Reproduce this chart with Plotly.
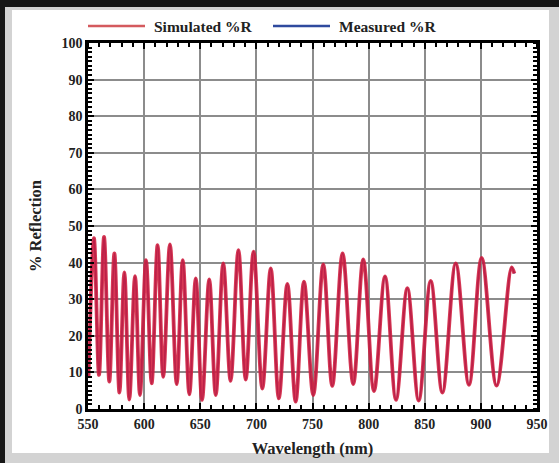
import plotly.graph_objects as go

# ---- data (extrema of the reflection curve) ----
wavelength_nm = [550.5, 555.3, 559.8, 564.3, 569.0, 573.5, 578.0, 582.4, 586.8, 591.9,
                 596.3, 601.7, 606.7, 612.0, 617.0, 623.0, 629.0, 634.4, 640.3, 646.0,
                 651.6, 658.0, 663.8, 670.5, 677.0, 684.0, 690.5, 697.5, 705.3, 712.8,
                 720.0, 727.6, 735.0, 742.4, 750.7, 759.6, 767.6, 776.8, 786.3, 795.2,
                 804.8, 814.6, 824.4, 834.5, 844.6, 855.3, 865.7, 877.6, 889.4, 900.7,
                 914.0, 927.4, 929.8]
simulated_R = [8.7, 46.7, 9.3, 47.0, 7.5, 42.5, 4.5, 37.3, 2.6, 36.3,
               3.8, 40.7, 7.0, 44.8, 8.8, 45.0, 6.8, 40.7, 4.0, 35.7,
               2.5, 35.4, 3.8, 39.8, 7.7, 43.4, 8.0, 43.0, 5.6, 38.4,
               2.9, 34.2, 2.0, 34.8, 3.8, 39.5, 6.3, 42.5, 6.8, 40.9,
               4.9, 36.2, 2.5, 33.0, 2.3, 35.0, 4.5, 39.8, 6.6, 41.3,
               6.4, 38.7, 37.0]
measured_R = [8.7, 46.7, 9.3, 47.0, 7.5, 42.5, 4.5, 37.3, 2.6, 36.3,
              3.8, 40.7, 7.0, 44.8, 8.8, 45.0, 6.8, 40.7, 4.0, 35.7,
              2.5, 35.4, 3.8, 39.8, 7.7, 43.4, 8.0, 43.0, 5.6, 38.4,
              2.9, 34.2, 2.0, 34.8, 3.8, 39.5, 6.3, 42.5, 6.8, 40.9,
              4.9, 36.2, 2.5, 33.0, 2.3, 35.0, 4.5, 39.8, 6.6, 41.3,
              6.4, 38.7, 37.0]
x_ticks = [550, 600, 650, 700, 750, 800, 850, 900, 950]
y_ticks = [0, 10, 20, 30, 40, 50, 60, 70, 80, 90, 100]
legend_names = ["Simulated %R", "Measured %R"]

W, H = 559, 463
ML, MR, MT, MB = 88, 22, 43, 54
PW, PH = W - ML - MR, H - MT - MB


def px(xpix):
    return (xpix - ML) / PW


def py(ypix):
    return (H - MB - ypix) / PH


FONT = "Liberation Serif"
X_RANGE = [550, 950]
Y_RANGE = [0, 100]

fig = go.Figure()
fig.add_trace(go.Scatter(x=wavelength_nm, y=measured_R, mode="lines",
                         line=dict(color="#2a3f9a", width=1.8, shape="spline"),
                         name=legend_names[1], showlegend=False))
fig.add_trace(go.Scatter(x=wavelength_nm, y=simulated_R, mode="lines",
                         line=dict(color="rgba(210,28,60,0.88)", width=3.8, shape="spline"),
                         name=legend_names[0], showlegend=False))
# empty trace binding the mirror axes (top / right minor ticks)
fig.add_trace(go.Scatter(x=[], y=[], xaxis="x2", yaxis="y2", showlegend=False, hoverinfo="skip"))

shapes = [
    dict(type="rect", xref="paper", yref="paper", x0=px(12), x1=px(549), y0=py(453), y1=py(10),
         fillcolor="white", line=dict(width=0), layer="below"),
    dict(type="rect", xref="paper", yref="paper", x0=px(-5), x1=px(W + 5), y0=py(7), y1=py(-5),
         fillcolor="#161616", line=dict(width=0), layer="below"),
    dict(type="rect", xref="paper", yref="paper", x0=px(-5), x1=px(5), y0=py(H + 5), y1=py(-5),
         fillcolor="#161616", line=dict(width=0), layer="below"),
    dict(type="line", xref="paper", yref="paper", x0=px(88), x1=px(145), y0=py(26), y1=py(26),
         line=dict(color="#d45a5e", width=2.5)),
    dict(type="line", xref="paper", yref="paper", x0=px(273), x1=px(330), y0=py(26), y1=py(26),
         line=dict(color="#2f4a9e", width=2.5)),
]

annotations = [
    dict(text="<b>%s</b>" % legend_names[0], xref="paper", yref="paper", x=px(152), y=py(26),
         xanchor="left", yanchor="middle", showarrow=False, font=dict(family=FONT, size=15.5, color="#222")),
    dict(text="<b>%s</b>" % legend_names[1], xref="paper", yref="paper", x=px(337), y=py(26),
         xanchor="left", yanchor="middle", showarrow=False, font=dict(family=FONT, size=15.5, color="#222")),
]

axis_common = dict(
    showline=True, linecolor="black", linewidth=2.5, mirror="allticks",
    showgrid=True, gridcolor="#8c8c8c", gridwidth=1.5,
    ticks="inside", ticklen=6, tickwidth=2, tickcolor="black",
    tickfont=dict(family=FONT, size=14, color="#222"),
    zeroline=False, automargin=False,
)
minor_x = dict(dtick=10, tick0=550, ticks="inside", ticklen=4, tickwidth=1.8,
               tickcolor="black", showgrid=False)
minor_y = dict(dtick=1.25, tick0=0, ticks="inside", ticklen=4, tickwidth=1.6,
               tickcolor="black", showgrid=False)

fig.update_layout(
    xaxis=dict(range=X_RANGE, tickvals=x_ticks, ticktext=["<b>%d</b>" % v for v in x_ticks],
               minor=minor_x,
               title=dict(text="<b>Wavelength (nm)</b>", font=dict(family=FONT, size=16.5, color="#222"),
                          standoff=12),
               **axis_common),
    yaxis=dict(range=Y_RANGE, tickvals=y_ticks, ticktext=["<b>%d</b>" % v for v in y_ticks],
               minor=minor_y,
               title=dict(text="<b>% Reflection</b>", font=dict(family=FONT, size=16.5, color="#222"),
                          standoff=16),
               **axis_common),
    xaxis2=dict(overlaying="x", side="top", range=X_RANGE, showticklabels=False, showgrid=False,
                showline=False, zeroline=False, tickvals=x_ticks, ticks="", minor=minor_x,
                automargin=False),
    yaxis2=dict(overlaying="y", side="right", range=Y_RANGE, showticklabels=False, showgrid=False,
                showline=False, zeroline=False, tickvals=y_ticks, ticks="", minor=minor_y,
                automargin=False),
    width=W, height=H,
    margin=dict(l=ML, r=MR, t=MT, b=MB, pad=0, autoexpand=False),
    paper_bgcolor="#d3d3d3", plot_bgcolor="white",
    shapes=shapes, annotations=annotations,
    showlegend=False,
)

fig.write_html("out.html", config={"displayModeBar": False},
               post_script="document.body.style.margin='0';document.body.style.overflow='hidden';")
